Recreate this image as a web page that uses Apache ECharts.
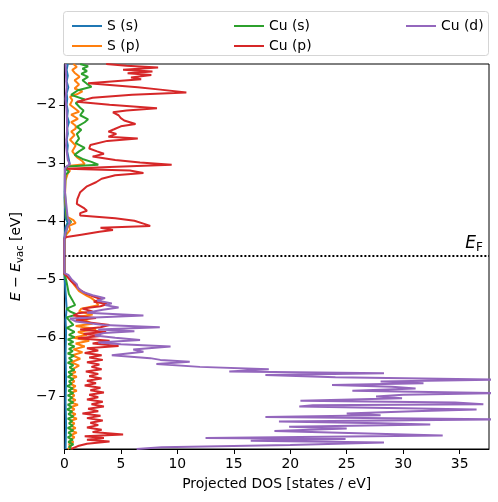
<!DOCTYPE html>
<html><head><meta charset="utf-8">
<script src="https://cdn.jsdelivr.net/npm/echarts@6/dist/echarts.min.js"></script>
<style>html,body{margin:0;padding:0;background:#fff}#c{width:498px;height:502px}</style>
</head><body><div id="c"></div>
<script>
const seriesNames = ['S (s)', 'S (p)', 'Cu (s)', 'Cu (p)', 'Cu (d)'];
const seriesColors = ['#1f77b4', '#ff7f0e', '#2ca02c', '#d62728', '#9467bd'];
const xTicks = [0, 5, 10, 15, 20, 25, 30, 35];
const yTicks = [-7, -6, -5, -4, -3, -2];
const xRange = [0, 37.6];
const yRange = [-7.91, -1.30];
const fermiLevel = -4.59;

// [energy (eV), projected DOS]
const sS = [[-1.30,0.3],[-1.40,0.2],[-1.50,0.3],[-1.60,0.2],[-1.70,0.35],[-1.80,0.2],[-1.90,0.25],[-2.00,0.2],[-2.10,0.3],[-2.20,0.25],[-2.30,0.4],[-2.40,0.25],[-2.50,0.3],[-2.60,0.2],[-2.70,0.3],[-2.80,0.25],[-2.90,0.35],[-3.00,0.45],[-3.04,0.4],[-3.07,0.1],[-3.20,0.05],[-3.60,0.02],[-3.95,0.1],[-4.02,0.3],[-4.10,0.1],[-4.30,0],[-4.90,0],[-5.20,0.1],[-5.50,0.2],[-5.70,0.1],[-5.90,0.15],[-6.30,0.1],[-6.70,0.15],[-7.10,0.1],[-7.50,0.15],[-7.91,0.1]];

const sP = [[-1.30,0.8],[-1.35,1.1],[-1.40,0.7],[-1.45,0.9],[-1.52,1.35],[-1.58,0.9],[-1.65,1.3],[-1.72,0.9],[-1.77,1.6],[-1.82,1.1],[-1.86,0.5],[-1.92,0.7],[-2.00,0.5],[-2.06,0.9],[-2.12,1.3],[-2.17,0.6],[-2.24,1.2],[-2.30,0.6],[-2.36,1.0],[-2.41,1.0],[-2.46,0.6],[-2.52,0.9],[-2.60,0.5],[-2.70,1.0],[-2.80,0.7],[-2.90,1.1],[-2.97,1.6],[-3.02,1.8],[-3.05,0.3],[-3.08,0.1],[-3.13,0.5],[-3.18,0.3],[-3.30,0.1],[-3.60,0.05],[-3.92,0.2],[-3.98,0.8],[-4.03,1.0],[-4.08,0.4],[-4.15,0.5],[-4.22,0.2],[-4.30,0],
  [-4.90,0],[-5.00,0.5],[-5.10,0.9],[-5.20,1.3],[-5.28,2.0],[-5.32,2.4],[-5.38,2.8],[-5.44,3.0],[-5.50,1.5],[-5.55,1.3],[-5.60,2.5],[-5.65,1.0],[-5.70,1.8],[-5.76,2.5],[-5.80,1.0],[-5.85,2.8],[-5.90,1.2],[-5.95,2.0],[-6.00,0.8],[-6.05,2.2],[-6.10,1.0],[-6.15,1.8],[-6.20,0.8],[-6.25,1.6],[-6.30,0.7],[-6.36,1.4],[-6.42,0.6],[-6.48,1.3],[-6.55,0.6],[-6.59,1.0],[-6.63,0.5],[-6.67,1.1],[-6.71,0.6],[-6.75,0.9],[-6.79,0.5],[-6.83,1.0],[-6.87,0.6],[-6.91,1.1],[-6.95,0.5],[-6.99,0.9],[-7.03,0.6],[-7.07,1.0],[-7.11,0.5],[-7.15,1.2],[-7.19,0.6],[-7.23,0.9],[-7.27,0.5],[-7.31,1.0],[-7.35,0.6],[-7.39,1.1],[-7.43,0.5],[-7.47,0.9],[-7.51,0.6],[-7.55,1.0],[-7.59,0.5],[-7.63,1.1],[-7.67,0.6],[-7.71,0.9],[-7.75,0.5],[-7.79,0.8],[-7.83,0.4],[-7.87,0.6],[-7.91,0.3]];

const cuS = [[-1.30,1.4],[-1.34,2.1],[-1.38,1.6],[-1.42,2.0],[-1.47,1.5],[-1.52,2.1],[-1.58,1.6],[-1.64,2.0],[-1.69,2.4],[-1.75,1.2],[-1.83,0.6],[-1.91,1.8],[-1.97,1.0],[-2.05,1.4],[-2.10,1.7],[-2.18,1.4],[-2.25,2.1],[-2.30,1.8],[-2.38,1.1],[-2.43,1.5],[-2.50,1.1],[-2.58,1.3],[-2.66,1.0],[-2.74,1.8],[-2.80,1.3],[-2.86,0.9],[-2.93,1.6],[-2.98,2.4],[-3.03,3.0],[-3.06,0.3],[-3.10,0.1],[-3.15,0.4],[-3.20,0.1],[-3.50,0.05],[-3.95,0.2],[-4.01,0.6],[-4.06,0.3],[-4.15,0.2],[-4.30,0],
  [-4.90,0],[-4.96,0.1],[-5.05,0.2],[-5.15,0.3],[-5.25,0.4],[-5.35,0.7],[-5.44,0.95],[-5.50,0.2],[-5.55,0.5],[-5.60,1.1],[-5.65,0.2],[-5.72,0.5],[-5.78,0.8],[-5.83,0.2],[-5.90,0.9],[-5.95,0.4],[-5.99,0.9],[-6.03,0.3],[-6.07,0.8],[-6.11,0.35],[-6.15,0.9],[-6.19,0.4],[-6.23,0.75],[-6.27,0.3],[-6.31,0.85],[-6.35,0.4],[-6.39,0.7],[-6.43,0.3],[-6.47,0.8],[-6.51,0.45],[-6.55,0.9],[-6.59,0.35],[-6.63,0.7],[-6.67,0.3],[-6.71,0.8],[-6.75,0.4],[-6.79,0.65],[-6.83,0.25],[-6.87,0.75],[-6.91,0.35],[-6.95,0.8],[-6.99,0.3],[-7.03,0.7],[-7.07,0.35],[-7.11,0.8],[-7.15,0.3],[-7.19,0.65],[-7.23,0.25],[-7.27,0.7],[-7.31,0.35],[-7.35,0.8],[-7.39,0.3],[-7.43,0.7],[-7.47,0.4],[-7.51,0.75],[-7.55,0.3],[-7.59,0.8],[-7.63,0.35],[-7.67,0.65],[-7.71,0.3],[-7.75,0.75],[-7.79,0.35],[-7.83,0.8],[-7.87,0.4],[-7.91,0.6]];

const cuP = [[-1.30,3.7],[-1.33,5.5],[-1.36,8.3],[-1.40,5.2],[-1.43,7.8],[-1.46,5.6],[-1.49,7.7],[-1.53,5.9],[-1.56,6.8],[-1.63,2.1],[-1.70,6.5],[-1.74,8.5],[-1.79,10.8],[-1.83,6.0],[-1.88,2.5],[-1.95,1.1],[-2.00,4.0],[-2.06,8.2],[-2.10,5.5],[-2.13,4.3],[-2.18,4.8],[-2.23,5.0],[-2.27,5.3],[-2.33,6.3],[-2.37,5.0],[-2.42,4.4],[-2.46,3.9],[-2.50,4.6],[-2.55,3.9],[-2.58,6.5],[-2.62,3.8],[-2.69,2.3],[-2.75,2.2],[-2.80,2.9],[-2.84,3.5],[-2.89,2.5],[-2.95,4.5],[-2.99,6.7],[-3.03,9.5],[-3.07,4.0],[-3.10,0.2],[-3.13,5.8],[-3.17,7.0],[-3.21,4.5],[-3.27,3.3],[-3.33,2.8],[-3.40,2.0],[-3.50,1.4],[-3.62,1.15],[-3.70,1.1],[-3.77,1.7],[-3.82,2.0],[-3.86,1.4],[-3.90,1.4],[-3.95,4.5],[-3.99,6.2],[-4.04,7.0],[-4.08,7.6],[-4.11,3.2],[-4.15,4.3],[-4.18,3.1],[-4.23,1.5],[-4.27,0.2],[-4.30,0],
  [-4.90,0],[-4.96,0.3],[-5.03,0.6],[-5.10,1.0],[-5.18,1.4],[-5.25,2.0],[-5.30,2.7],[-5.34,3.3],[-5.38,2.6],[-5.42,3.8],[-5.46,3.2],[-5.50,1.6],[-5.55,2.5],[-5.58,1.2],[-5.62,0.8],[-5.66,2.8],[-5.70,1.0],[-5.74,2.2],[-5.78,4.0],[-5.82,3.2],[-5.86,1.4],[-5.90,3.7],[-5.93,1.7],[-5.97,3.2],[-6.01,1.2],[-6.05,4.0],[-6.10,2.5],[-6.14,4.8],[-6.18,2.0],[-6.22,3.0],[-6.26,1.8],[-6.30,3.3],[-6.34,2.2],[-6.38,3.4],[-6.42,2.0],[-6.46,3.1],[-6.50,2.4],[-6.54,3.3],[-6.58,1.9],[-6.62,3.0],[-6.66,2.2],[-6.70,3.3],[-6.74,2.0],[-6.78,2.8],[-6.82,1.8],[-6.86,3.2],[-6.90,2.3],[-6.94,3.5],[-6.98,2.2],[-7.02,3.0],[-7.06,2.0],[-7.10,3.4],[-7.14,2.4],[-7.18,3.5],[-7.22,2.1],[-7.26,3.0],[-7.30,1.6],[-7.34,3.2],[-7.38,2.0],[-7.42,3.4],[-7.46,2.3],[-7.50,3.0],[-7.54,2.0],[-7.58,3.3],[-7.62,2.5],[-7.66,5.2],[-7.69,1.8],[-7.72,3.5],[-7.75,2.0],[-7.78,4.0],[-7.82,2.0],[-7.86,1.2],[-7.91,0.6]];

const cuD = [[-1.30,0.1],[-1.50,0.15],[-1.70,0.2],[-1.90,0.1],[-2.10,0.2],[-2.40,0.25],[-2.70,0.15],[-2.95,0.3],[-3.02,0.5],[-3.06,0.2],[-3.10,0.05],[-3.50,0.05],[-3.95,0.3],[-4.02,0.5],[-4.08,0.3],[-4.20,0.1],[-4.30,0],
  [-4.89,0],[-4.92,0.35],[-5.00,0.65],[-5.08,1.1],[-5.15,1.2],[-5.22,1.7],[-5.27,2.5],[-5.32,3.6],[-5.36,2.9],[-5.41,4.2],[-5.44,3.6],[-5.48,4.8],[-5.52,3.4],[-5.57,2.0],[-5.62,7.0],[-5.67,0.5],[-5.72,1.0],[-5.78,3.5],[-5.82,8.45],[-5.86,3.0],[-5.89,6.2],[-5.92,3.5],[-5.96,2.7],[-6.00,4.5],[-6.04,6.7],[-6.08,3.0],[-6.11,5.0],[-6.15,9.4],[-6.20,6.1],[-6.24,7.0],[-6.30,4.2],[-6.35,7.6],[-6.38,8.5],[-6.41,11.1],[-6.45,8.15],[-6.50,12.0],[-6.54,18.1],[-6.58,14.6],[-6.61,28.3],[-6.64,17.8],[-6.68,24.0],[-6.72,38.5],[-6.75,28.0],[-6.78,31.8],[-6.81,23.7],[-6.84,29.0],[-6.87,31.1],[-6.91,25.5],[-6.95,38.5],[-6.98,30.0],[-7.01,27.6],[-7.04,29.9],[-7.08,20.9],[-7.11,34.6],[-7.14,37.1],[-7.16,22.0],[-7.18,20.8],[-7.23,36.5],[-7.26,30.9],[-7.30,25.0],[-7.33,28.0],[-7.36,17.8],[-7.40,38.5],[-7.44,19.0],[-7.47,28.0],[-7.49,32.4],[-7.53,19.9],[-7.56,25.0],[-7.60,18.6],[-7.64,26.0],[-7.68,33.5],[-7.72,12.5],[-7.74,24.9],[-7.77,16.5],[-7.80,28.3],[-7.84,20.0],[-7.88,8.6],[-7.91,6.4]];

const seriesData = [sS, sP, cuS, cuP, cuD];

const FONT = 'DejaVu Sans';
const FS = 13.9;
const fmt = v => (v < 0 ? '\u2212' + Math.abs(v) : String(v));

const chart = echarts.init(document.getElementById('c'), null, {renderer: 'canvas'});

const legendBase = {
  orient: 'vertical', top: 13, icon: 'rect', itemWidth: 30, itemHeight: 2, itemGap: 4, itemTextGap: 10,
  textStyle: {fontFamily: FONT, fontSize: FS, color: '#000', lineHeight: 16}, selectedMode: false
};

const series = seriesData.map((d, i) => ({
  name: seriesNames[i],
  type: 'line',
  data: d.map(p => [p[1], p[0]]),
  symbol: 'none',
  smooth: false,
  clip: true,
  lineStyle: {color: seriesColors[i], width: 2},
  itemStyle: {color: seriesColors[i]},
  z: 2 + i
}));

series[4].markLine = {
  silent: true,
  symbol: ['none', 'none'],
  data: [{yAxis: fermiLevel}],
  lineStyle: {color: '#000', type: [2, 2], width: 2},
  label: {
    show: true, position: 'insideEndTop', distance: [6, 2],
    formatter: '{e|E}{f|F}',
    rich: {
      e: {fontFamily: FONT, fontStyle: 'italic', fontSize: 17, lineHeight: 20, color: '#000'},
      f: {fontFamily: FONT, fontSize: 12, lineHeight: 12, padding: [8, 0, 0, 0], color: '#000'}
    }
  }
};

chart.setOption({
  animation: false,
  backgroundColor: '#fff',
  color: seriesColors,
  graphic: [{
    type: 'rect', z: 0, silent: true,
    shape: {x: 63.5, y: 11.5, width: 425, height: 44, r: 3},
    style: {fill: '#fff', stroke: '#d5d5d5', lineWidth: 1}
  }],
  legend: [
    Object.assign({}, legendBase, {data: [seriesNames[0], seriesNames[1]], left: 67}),
    Object.assign({}, legendBase, {data: [seriesNames[2], seriesNames[3]], left: 229}),
    Object.assign({}, legendBase, {data: [seriesNames[4]], left: 401})
  ],
  grid: {left: 63, top: 64, width: 426, height: 385, show: true, borderColor: '#000', borderWidth: 1, backgroundColor: 'transparent'},
  xAxis: {
    type: 'value', min: xRange[0], max: xRange[1],
    name: 'Projected DOS [states / eV]', nameLocation: 'middle', nameGap: 28,
    nameTextStyle: {fontFamily: FONT, fontSize: FS, color: '#000'},
    axisLine: {show: true, lineStyle: {color: '#000', width: 1}},
    axisTick: {show: true, length: 5, lineStyle: {color: '#000'}, customValues: xTicks},
    axisLabel: {show: true, margin: 8, fontFamily: FONT, fontSize: FS, color: '#000', formatter: fmt, customValues: xTicks},
    splitLine: {show: false}
  },
  yAxis: {
    type: 'value', min: yRange[0], max: yRange[1],
    name: '{i|E} \u2212 {i|E}{s|vac} [eV]', nameLocation: 'middle', nameGap: 38, nameRotate: 90,
    nameTextStyle: {
      fontFamily: FONT, fontSize: FS, color: '#000',
      rich: {
        i: {fontFamily: FONT, fontStyle: 'italic', fontSize: FS, lineHeight: 18, color: '#000'},
        s: {fontFamily: FONT, fontSize: 10, lineHeight: 10, padding: [7, 0, 0, 0], color: '#000'}
      }
    },
    axisLine: {show: true, lineStyle: {color: '#000', width: 1}},
    axisTick: {show: true, length: 5, lineStyle: {color: '#000'}, customValues: yTicks},
    axisLabel: {show: true, margin: 8, fontFamily: FONT, fontSize: FS, color: '#000', formatter: fmt, customValues: yTicks},
    splitLine: {show: false}
  },
  series: series
});
</script>
</body></html>
